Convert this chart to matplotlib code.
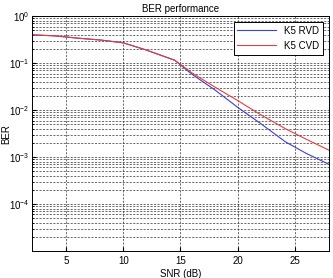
import matplotlib
matplotlib.use("Agg")
import matplotlib.pyplot as plt
from matplotlib.ticker import LogLocator, NullFormatter

plt.rcParams['font.family'] = ['Liberation Sans', 'DejaVu Sans']
plt.rcParams['mathtext.fontset'] = 'custom'
plt.rcParams['mathtext.rm'] = 'Liberation Sans'

snr = [2, 4, 6, 8, 10, 12, 14.5, 16, 18, 20, 22, 24.2, 26, 28]
ber_rvd = [0.40, 0.38, 0.34, 0.31, 0.27, 0.19, 0.115, 0.058, 0.027, 0.0115, 0.0052, 0.0021, 0.0012, 0.0007]
ber_cvd = [0.40, 0.38, 0.34, 0.31, 0.27, 0.19, 0.115, 0.062, 0.031, 0.016, 0.0080, 0.0040, 0.0024, 0.0014]

fig = plt.figure(figsize=(3.33, 2.78), dpi=100)
ax = fig.add_axes([0.096, 0.097, 0.892, 0.845])
ax.semilogy(snr, ber_rvd, color='#4040d0', lw=0.8, label='K5 RVD')
ax.semilogy(snr, ber_cvd, color='#e04040', lw=0.8, label='K5 CVD')
ax.set_xlim(2, 28)
ax.set_ylim(1e-5, 1)
ax.set_xticks([5, 10, 15, 20, 25])
ax.yaxis.set_minor_locator(LogLocator(base=10, subs=range(2, 10), numticks=20))
ax.yaxis.set_minor_formatter(NullFormatter())
ax.set_yticks([1e-4, 1e-3, 1e-2, 1e-1, 1e0])
ax.set_yticklabels([r'$10^{-4}$', r'$10^{-3}$', r'$10^{-2}$', r'$10^{-1}$', r'$10^{0}$'])
ax.tick_params(which='both', direction='in', labelsize=7, length=3)
ax.tick_params(axis='y', pad=2)
ax.tick_params(which='minor', length=1.5)
ax.grid(True, which='major', ls=(0, (3, 2)), color='#303030', lw=0.5)
ax.grid(True, which='minor', axis='y', ls=(0, (3, 2)), color='#303030', lw=0.5)
for s in ax.spines.values():
    s.set_linewidth(0.7)
ax.set_title('BER performance', fontsize=7, pad=3)
ax.set_xlabel('SNR (dB)', fontsize=7, labelpad=2)
ax.set_ylabel('BER', fontsize=7, va='center')
ax.yaxis.set_label_coords(-0.088, 0.5)
leg = ax.legend(loc='upper right', fontsize=7, fancybox=False, framealpha=1,
                edgecolor='black', handlelength=4, borderaxespad=0.6)
leg.get_frame().set_linewidth(0.7)
fig.savefig('out.png', dpi=100)
